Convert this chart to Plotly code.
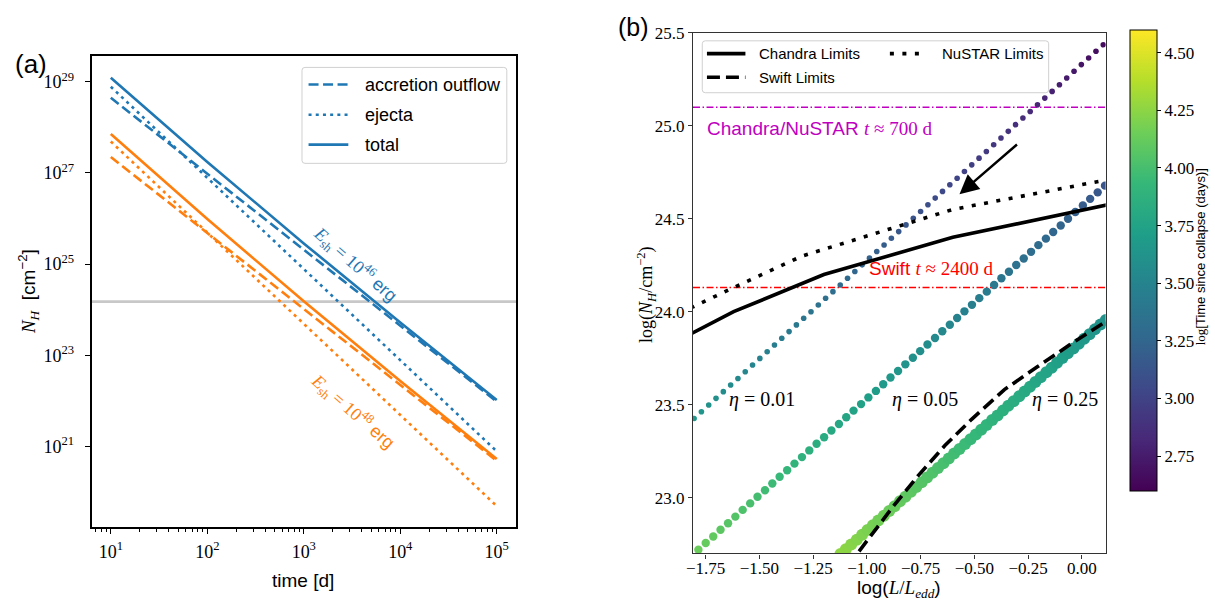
import plotly.graph_objects as go

W, H = 1215, 600


def fx(px):
    return px / W


def fy(py):
    return 1 - py / H


SANS = "Liberation Sans"
SERIF = "Liberation Serif"
BLUE = "#1f77b4"
ORANGE = "#ff7f0e"
MAGENTA = "#bf00bf"
RED = "#ff0000"


def serif(t):
    return f"<span style=\"font-family:'{SERIF}'\">{t}</span>"


def sans(t):
    return f"<span style=\"font-family:'{SANS}'\">{t}</span>"


# ---------------- panel (a): column density against time ----------------
time_days = [1e1, 1e2, 1e3, 1e4, 1e5]

nh_outflow_e46 = [4.47e28, 9.62e26, 2.07e25, 4.47e23, 9.62e21]
nh_ejecta_e46 = [7.80e28, 7.80e26, 7.80e24, 7.80e22, 7.80e20]
nh_total_e46 = [1.23e29, 1.74e27, 2.85e25, 5.25e23, 1.04e22]

nh_outflow_e48 = [2.24e27, 4.82e25, 1.04e24, 2.24e22, 4.82e20]
nh_ejecta_e48 = [4.90e27, 4.90e25, 4.90e23, 4.90e21, 4.90e19]
nh_total_e48 = [7.14e27, 9.72e25, 1.53e24, 2.73e22, 5.31e20]

nh_threshold = 1.5e24

x_ticks_a = [1e1, 1e2, 1e3, 1e4, 1e5]
x_ticktext_a = ["10<sup>1</sup>", "10<sup>2</sup>", "10<sup>3</sup>", "10<sup>4</sup>", "10<sup>5</sup>"]
x_minor_a = [7, 8, 9,
             20, 30, 40, 50, 60, 70, 80, 90,
             200, 300, 400, 500, 600, 700, 800, 900,
             2e3, 3e3, 4e3, 5e3, 6e3, 7e3, 8e3, 9e3,
             2e4, 3e4, 4e4, 5e4, 6e4, 7e4, 8e4, 9e4]
y_ticks_a = [1e21, 1e23, 1e25, 1e27, 1e29]
y_ticktext_a = ["10<sup>21</sup>", "10<sup>23</sup>", "10<sup>25</sup>", "10<sup>27</sup>", "10<sup>29</sup>"]

# ---------------- panel (b): detection limits and model tracks ----------------
chandra_logL = [-1.82, -1.62, -1.20, -0.60, 0.12]
chandra_logNH = [23.88, 24.00, 24.20, 24.40, 24.575]

nustar_logL = [-1.82, -1.62, -1.30, -0.60, 0.12]
nustar_logNH = [24.02, 24.13, 24.30, 24.55, 24.71]

swift_logL = [-1.09, -1.045, -0.884, -0.76, -0.637, -0.514, -0.36, -0.205, -0.051, 0.12]
swift_logNH = [22.63, 22.70, 22.943, 23.12, 23.28, 23.42, 23.581, 23.705, 23.826, 23.953]

chandra_nustar_level = 25.10
swift_level = 24.13

# eta = 0.01 track
logL_eta001 = [-1.804, -1.770, -1.736, -1.702, -1.668, -1.634, -1.600, -1.566, -1.532, -1.498,
               -1.464, -1.430, -1.396, -1.362, -1.328, -1.294, -1.260, -1.226, -1.192, -1.158,
               -1.124, -1.090, -1.056, -1.022, -0.988, -0.954, -0.920, -0.886, -0.852, -0.818,
               -0.784, -0.750, -0.716, -0.682, -0.648, -0.614, -0.580, -0.546, -0.512, -0.478,
               -0.444, -0.410, -0.376, -0.342, -0.308, -0.274, -0.240, -0.206, -0.172, -0.138,
               -0.104, -0.070, -0.036, -0.002, 0.032, 0.066, 0.100]
logNH_eta001 = [23.426, 23.462, 23.498, 23.534, 23.570, 23.606, 23.641, 23.677, 23.713, 23.749,
                23.785, 23.821, 23.857, 23.893, 23.929, 23.965, 24.000, 24.036, 24.072, 24.108,
                24.144, 24.180, 24.216, 24.252, 24.288, 24.324, 24.359, 24.395, 24.431, 24.467,
                24.503, 24.539, 24.575, 24.611, 24.647, 24.683, 24.718, 24.754, 24.790, 24.826,
                24.862, 24.898, 24.934, 24.970, 25.006, 25.042, 25.077, 25.113, 25.149, 25.185,
                25.221, 25.257, 25.293, 25.329, 25.365, 25.401, 25.436]
logt_eta001 = [3.650, 3.632, 3.615, 3.597, 3.579, 3.562, 3.544, 3.526, 3.508, 3.491,
               3.473, 3.455, 3.438, 3.420, 3.402, 3.385, 3.367, 3.349, 3.331, 3.314,
               3.296, 3.278, 3.261, 3.243, 3.225, 3.208, 3.190, 3.172, 3.154, 3.137,
               3.119, 3.101, 3.084, 3.066, 3.048, 3.031, 3.013, 2.995, 2.977, 2.960,
               2.942, 2.924, 2.907, 2.889, 2.871, 2.854, 2.836, 2.818, 2.800, 2.783,
               2.765, 2.747, 2.730, 2.712, 2.694, 2.677, 2.659]

# eta = 0.05 track
logL_eta005 = [-1.784, -1.750, -1.715, -1.681, -1.646, -1.612, -1.578, -1.543, -1.509, -1.474,
               -1.440, -1.406, -1.371, -1.337, -1.302, -1.268, -1.234, -1.199, -1.165, -1.130,
               -1.096, -1.062, -1.027, -0.993, -0.958, -0.924, -0.890, -0.855, -0.821, -0.786,
               -0.752, -0.718, -0.683, -0.649, -0.614, -0.580, -0.546, -0.511, -0.477, -0.442,
               -0.408, -0.374, -0.339, -0.305, -0.270, -0.236, -0.202, -0.167, -0.133, -0.098,
               -0.064, -0.030, 0.005, 0.039, 0.074, 0.108]
logNH_eta005 = [22.720, 22.756, 22.791, 22.827, 22.862, 22.898, 22.934, 22.969, 23.005, 23.040,
                23.076, 23.112, 23.147, 23.183, 23.218, 23.254, 23.290, 23.325, 23.361, 23.396,
                23.432, 23.468, 23.503, 23.539, 23.574, 23.610, 23.646, 23.681, 23.717, 23.752,
                23.788, 23.824, 23.859, 23.895, 23.930, 23.966, 24.002, 24.037, 24.073, 24.108,
                24.144, 24.180, 24.215, 24.251, 24.286, 24.322, 24.358, 24.393, 24.429, 24.464,
                24.500, 24.536, 24.571, 24.607, 24.642, 24.678]
logt_eta005 = [4.140, 4.122, 4.103, 4.085, 4.067, 4.049, 4.030, 4.012, 3.994, 3.975,
               3.957, 3.939, 3.920, 3.902, 3.884, 3.866, 3.847, 3.829, 3.811, 3.792,
               3.774, 3.756, 3.737, 3.719, 3.701, 3.683, 3.664, 3.646, 3.628, 3.609,
               3.591, 3.573, 3.554, 3.536, 3.518, 3.500, 3.481, 3.463, 3.445, 3.426,
               3.408, 3.390, 3.371, 3.353, 3.335, 3.317, 3.298, 3.280, 3.262, 3.243,
               3.225, 3.207, 3.188, 3.170, 3.152, 3.134]

# eta = 0.25 track
logL_eta025 = [-1.123, -1.098, -1.073, -1.047, -1.022, -0.997, -0.972, -0.947, -0.921, -0.896,
               -0.871, -0.846, -0.821, -0.795, -0.770, -0.745, -0.720, -0.695, -0.669, -0.644,
               -0.619, -0.594, -0.569, -0.543, -0.518, -0.493, -0.468, -0.443, -0.417, -0.392,
               -0.367, -0.342, -0.317, -0.291, -0.266, -0.241, -0.216, -0.191, -0.165, -0.140,
               -0.115, -0.090, -0.065, -0.039, -0.014, 0.011, 0.036, 0.061, 0.087, 0.112]
logNH_eta025 = [22.697, 22.723, 22.748, 22.774, 22.800, 22.826, 22.851, 22.877, 22.903, 22.928,
                22.954, 22.980, 23.005, 23.031, 23.057, 23.083, 23.108, 23.134, 23.160, 23.185,
                23.211, 23.237, 23.262, 23.288, 23.314, 23.340, 23.365, 23.391, 23.417, 23.442,
                23.468, 23.494, 23.519, 23.545, 23.571, 23.597, 23.622, 23.648, 23.674, 23.699,
                23.725, 23.751, 23.776, 23.802, 23.828, 23.854, 23.879, 23.905, 23.931, 23.956]
logt_eta025 = [4.260, 4.247, 4.234, 4.220, 4.207, 4.194, 4.181, 4.168, 4.154, 4.141,
               4.128, 4.115, 4.102, 4.088, 4.075, 4.062, 4.049, 4.036, 4.022, 4.009,
               3.996, 3.983, 3.970, 3.956, 3.943, 3.930, 3.917, 3.904, 3.890, 3.877,
               3.864, 3.851, 3.838, 3.824, 3.811, 3.798, 3.785, 3.772, 3.758, 3.745,
               3.732, 3.719, 3.706, 3.692, 3.679, 3.666, 3.653, 3.640, 3.626, 3.613]

eta_labels = ["0.01", "0.05", "0.25"]
colorbar_ticks = [2.75, 3.00, 3.25, 3.50, 3.75, 4.00, 4.25, 4.50]

fig = go.Figure()

# ---- panel (a) traces ----
dash_a = "10px,4.5px"
dot_a = "3px,4.2px"
for color, outflow, ejecta, total in [
    (BLUE, nh_outflow_e46, nh_ejecta_e46, nh_total_e46),
    (ORANGE, nh_outflow_e48, nh_ejecta_e48, nh_total_e48),
]:
    fig.add_trace(go.Scatter(x=time_days, y=outflow, mode="lines",
                             line=dict(color=color, width=2.6, dash=dash_a),
                             xaxis="x", yaxis="y", showlegend=False))
    fig.add_trace(go.Scatter(x=time_days, y=ejecta, mode="lines",
                             line=dict(color=color, width=2.6, dash=dot_a),
                             xaxis="x", yaxis="y", showlegend=False))
    fig.add_trace(go.Scatter(x=time_days, y=total, mode="lines",
                             line=dict(color=color, width=2.6),
                             xaxis="x", yaxis="y", showlegend=False))

fig.add_shape(type="line", xref="x domain", yref="y", x0=0, x1=1,
              y0=nh_threshold, y1=nh_threshold,
              line=dict(color="#c8c8c8", width=2.8), layer="below")

# ---- panel (b) traces: model tracks coloured by time ----
for logL, logNH, logt, size in [
    (logL_eta001, logNH_eta001, logt_eta001, 5.6),
    (logL_eta005, logNH_eta005, logt_eta005, 8.4),
    (logL_eta025, logNH_eta025, logt_eta025, 12),
]:
    fig.add_trace(go.Scatter(x=logL, y=logNH, mode="markers",
                             marker=dict(size=size, color=logt, coloraxis="coloraxis",
                                         line=dict(width=0)),
                             xaxis="x2", yaxis="y2", showlegend=False))

lw_b = 3.6
fig.add_trace(go.Scatter(x=chandra_logL, y=chandra_logNH, mode="lines",
                         line=dict(color="black", width=lw_b),
                         xaxis="x2", yaxis="y2", showlegend=False))
fig.add_trace(go.Scatter(x=nustar_logL, y=nustar_logNH, mode="lines",
                         line=dict(color="black", width=lw_b, dash="4px,8.5px"),
                         xaxis="x2", yaxis="y2", showlegend=False))
fig.add_trace(go.Scatter(x=swift_logL, y=swift_logNH, mode="lines",
                         line=dict(color="black", width=lw_b, dash="13px,6px"),
                         xaxis="x2", yaxis="y2", showlegend=False))

for level, color in [(chandra_nustar_level, MAGENTA), (swift_level, RED)]:
    fig.add_shape(type="line", xref="x2 domain", yref="y2", x0=0, x1=1,
                  y0=level, y1=level,
                  line=dict(color=color, width=1.5, dash="7px,2.5px,1.5px,2.5px"),
                  layer="below")


# ---- legends drawn as framed boxes ----
def rounded_box(x0, y0, x1, y1, r=3):
    pts = [
        f"M{fx(x0 + r)},{fy(y0)}", f"L{fx(x1 - r)},{fy(y0)}",
        f"Q{fx(x1)},{fy(y0)} {fx(x1)},{fy(y0 + r)}", f"L{fx(x1)},{fy(y1 - r)}",
        f"Q{fx(x1)},{fy(y1)} {fx(x1 - r)},{fy(y1)}", f"L{fx(x0 + r)},{fy(y1)}",
        f"Q{fx(x0)},{fy(y1)} {fx(x0)},{fy(y1 - r)}", f"L{fx(x0)},{fy(y0 + r)}",
        f"Q{fx(x0)},{fy(y0)} {fx(x0 + r)},{fy(y0)}", "Z",
    ]
    fig.add_shape(type="path", xref="paper", yref="paper", path=" ".join(pts),
                  line=dict(color="#d0d0d0", width=1),
                  fillcolor="rgba(255,255,255,0.8)", layer="above")


def legend_sample(x0, x1, y, color, width, dash):
    fig.add_shape(type="line", xref="paper", yref="paper",
                  x0=fx(x0), x1=fx(x1), y0=fy(y), y1=fy(y),
                  line=dict(color=color, width=width, dash=dash), layer="above")


def label(text, x, y, size, color="black", family=SANS, angle=0,
          xanchor="center", yanchor="middle"):
    fig.add_annotation(text=text, x=fx(x), y=fy(y), xref="paper", yref="paper",
                       showarrow=False, textangle=angle,
                       font=dict(family=family, size=size, color=color),
                       xanchor=xanchor, yanchor=yanchor)


rounded_box(296.7, 59.3, 502.7, 156.7)
for y, dash, name in [(76.7, dash_a, "accretion outflow"),
                      (107.3, dot_a, "ejecta"),
                      (137.7, "solid", "total")]:
    legend_sample(303.3, 343.3, y, BLUE, 2.6, dash)
    label(name, 358.3, y, 18, xanchor="left")

rounded_box(699.3, 32.3, 1047.7, 85)
legend_sample(704, 742.7, 45.3, "black", lw_b, "solid")
label("Chandra Limits", 754, 45.3, 15, xanchor="left")
legend_sample(704, 742.7, 69.3, "black", lw_b, "13px,6px")
label("Swift Limits", 754, 69.3, 15, xanchor="left")
legend_sample(888, 925, 45.3, "black", lw_b, "4px,8.5px")
label("NuSTAR Limits", 938, 45.3, 15, xanchor="left")

# ---- text labels ----
label("(a)", 24, 56, 26)
label("(b)", 630, 18.5, 25)

label("time [d]", 298, 580, 19)
label(serif("<i>N</i><sub><i>H</i></sub>") + "  [cm<sup>\u22122</sup>]", 21, 286.5, 19, angle=-90)
label("log(" + serif("<i>L</i>/<i>L</i><sub><i>edd</i></sub>") + ")", 897, 589, 19)
label("log(<i>N</i><sub><i>H</i></sub>/cm<sup>\u22122</sup>)", 643, 290, 18, family=SERIF, angle=-90)

label("<i>E</i><sub>sh</sub> = 10<sup>46</sup> " + sans("erg"), 351, 259, 18,
      color=BLUE, family=SERIF, angle=41)
label("<i>E</i><sub>sh</sub> = 10<sup>48</sup> " + sans("erg"), 348, 409, 18,
      color=ORANGE, family=SERIF, angle=41)

label("Chandra/NuSTAR " + serif("<i>t</i> \u2248 700 d"), 701.7, 121, 19,
      color=MAGENTA, xanchor="left")
label("Swift " + serif("<i>t</i> \u2248 2400 d"), 865, 263, 19,
      color=RED, xanchor="left")

for text, xc in zip(eta_labels, [759, 923, 1064]):
    label("<i>\u03b7</i> = " + text, xc, 396, 20, family=SERIF)

label(serif("log") + "[Time since collapse (days)]", 1200, 252, 13, angle=-90)

fig.add_annotation(x=fx(958), y=fy(188), xref="paper", yref="paper",
                   ax=59, ay=-51, text="", showarrow=True,
                   arrowhead=2, arrowsize=1.6, arrowwidth=2.4,
                   arrowcolor="black", standoff=0)

# ---- axes ----
tickfont = dict(family=SERIF, size=17, color="black")
tickfont_a = dict(family=SERIF, size=18, color="black")
fig.update_layout(
    width=W, height=H,
    margin=dict(l=0, r=0, t=0, b=0),
    paper_bgcolor="white", plot_bgcolor="white",
    font=dict(family=SANS, color="black"),
    showlegend=False,
    xaxis=dict(type="log", range=[0.8, 5.2], domain=[fx(85), fx(512)], anchor="y",
               tickvals=x_ticks_a, ticktext=x_ticktext_a, tickfont=tickfont_a,
               ticks="outside", ticklen=5, tickwidth=1, tickcolor="black",
               ticklabelstandoff=2,
               minor=dict(tickvals=x_minor_a, ticks="outside", ticklen=3,
                          tickwidth=0.8, tickcolor="black", showgrid=False),
               showline=True, linecolor="black", linewidth=1.6, mirror=True,
               showgrid=False, zeroline=False),
    yaxis=dict(type="log", range=[19.23, 29.56], domain=[fy(526), fy(48)], anchor="x",
               tickvals=y_ticks_a, ticktext=y_ticktext_a, tickfont=tickfont_a,
               ticks="outside", ticklen=5, tickwidth=1, tickcolor="black",
               ticklabelstandoff=7,
               showline=True, linecolor="black", linewidth=1.6, mirror=True,
               showgrid=False, zeroline=False),
    xaxis2=dict(range=[-1.809, 0.111], domain=[fx(690), fx(1105)], anchor="y2",
                tickvals=[-1.75, -1.5, -1.25, -1.0, -0.75, -0.5, -0.25, 0.0],
                tickformat=".2f", tickfont=tickfont,
                ticks="outside", ticklen=4, tickwidth=1, tickcolor="#333333",
                ticklabelstandoff=-5,
                showline=True, linecolor="#333333", linewidth=1.2, mirror=True,
                showgrid=False, zeroline=False),
    yaxis2=dict(range=[22.70, 25.501], domain=[fy(552.7), fy(24)], anchor="x2",
                tickvals=[23.0, 23.5, 24.0, 24.5, 25.0, 25.5],
                tickformat=".1f", tickfont=tickfont,
                ticks="outside", ticklen=4, tickwidth=1, tickcolor="#333333",
                showline=True, linecolor="#333333", linewidth=1.2, mirror=True,
                showgrid=False, zeroline=False),
    coloraxis=dict(
        colorscale="Viridis", cmin=2.6, cmax=4.6,
        colorbar=dict(
            thickness=27, thicknessmode="pixels",
            len=461, lenmode="pixels",
            x=fx(1130), xanchor="left", y=fy(21), yanchor="top",
            xpad=0, ypad=0,
            outlinewidth=1, outlinecolor="black",
            tickvals=colorbar_ticks, tickformat=".2f",
            ticks="outside", ticklen=4, tickwidth=1, tickcolor="black",
            tickfont=tickfont,
        ),
    ),
)

fig.write_html("out.html")
